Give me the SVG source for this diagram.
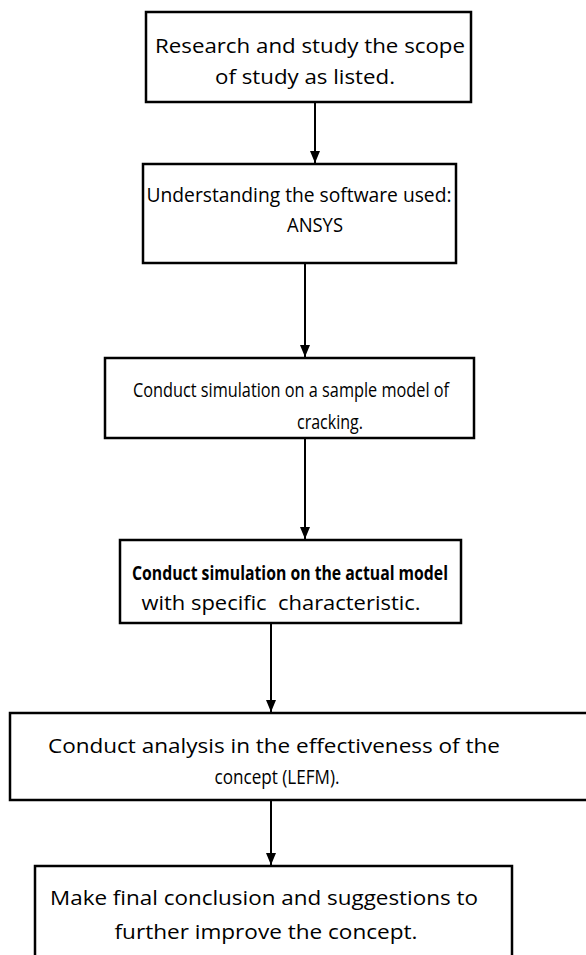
<svg xmlns="http://www.w3.org/2000/svg" width="586" height="955" viewBox="0 0 586 955">
<defs>
<marker id="ah" markerWidth="12" markerHeight="10" refX="12" refY="5" orient="auto" markerUnits="userSpaceOnUse" viewBox="0 0 12 10">
<path d="M0,0 L12,5 L0,10 Z" fill="#000"/>
</marker>
<style>
.box{fill:#fff;stroke:#000;stroke-width:2.5}
.t{font-family:"Open Sans","Noto Sans",sans-serif;fill:#000;text-anchor:middle;font-size:20px;font-weight:500}
.b{font-weight:700}
.c{stroke:#000;stroke-width:2;fill:none}
</style>
</defs>
<rect width="586" height="955" fill="#fff"/>
<g id="connectors">
<line class="c" x1="315" y1="102" x2="315" y2="163" marker-end="url(#ah)"/>
<line class="c" x1="305" y1="263" x2="305" y2="357" marker-end="url(#ah)"/>
<line class="c" x1="305" y1="438" x2="305" y2="539" marker-end="url(#ah)"/>
<line class="c" x1="271" y1="623" x2="271" y2="712" marker-end="url(#ah)"/>
<line class="c" x1="271" y1="800" x2="271" y2="865" marker-end="url(#ah)"/>
</g>
<g id="n1">
<rect class="box" x="146" y="12" width="325" height="90"/>
<text class="t" x="310" y="53" textLength="310" lengthAdjust="spacingAndGlyphs">Research and study the scope</text>
<text class="t" x="305" y="84" textLength="180" lengthAdjust="spacingAndGlyphs">of study as listed.</text>
</g>
<g id="n2">
<rect class="box" x="143" y="164" width="313" height="99"/>
<text class="t" x="299" y="202" textLength="305" lengthAdjust="spacingAndGlyphs">Understanding the software used:</text>
<text class="t" x="315" y="232" textLength="56" lengthAdjust="spacingAndGlyphs">ANSYS</text>
</g>
<g id="n3">
<rect class="box" x="105" y="358" width="369" height="80"/>
<text class="t" x="291" y="397" textLength="316" lengthAdjust="spacingAndGlyphs">Conduct simulation on a sample model of</text>
<text class="t" x="330" y="429" textLength="66" lengthAdjust="spacingAndGlyphs">cracking.</text>
</g>
<g id="n4">
<rect class="box" x="120" y="540" width="341" height="83"/>
<text class="t b" x="290" y="580" textLength="316" lengthAdjust="spacingAndGlyphs">Conduct simulation on the actual model</text>
<text class="t" x="281" y="610" textLength="279" lengthAdjust="spacingAndGlyphs" xml:space="preserve">with specific  characteristic.</text>
</g>
<g id="n5">
<rect class="box" x="10" y="713" width="580" height="87"/>
<text class="t" x="274" y="753" textLength="452" lengthAdjust="spacingAndGlyphs">Conduct analysis in the effectiveness of the</text>
<text class="t" x="277" y="784" textLength="125" lengthAdjust="spacingAndGlyphs">concept (LEFM).</text>
</g>
<g id="n6">
<rect class="box" x="35" y="866" width="477" height="100"/>
<text class="t" x="264" y="905" textLength="428" lengthAdjust="spacingAndGlyphs">Make final conclusion and suggestions to</text>
<text class="t" x="266" y="939" textLength="303" lengthAdjust="spacingAndGlyphs">further improve the concept.</text>
</g>
</svg>
